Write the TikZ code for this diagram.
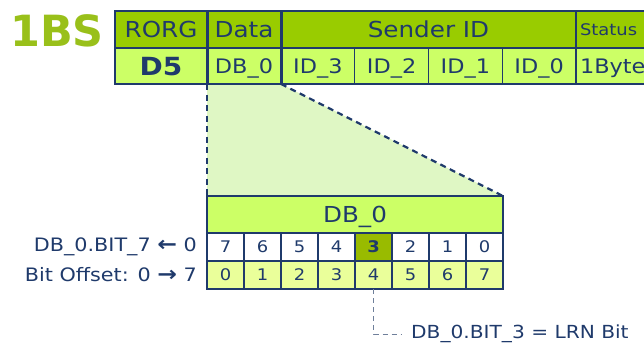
\documentclass[tikz,border=0pt]{standalone}
\usepackage{fontspec}
\setmainfont{DejaVu Sans}[FakeStretch=1.12]
\newfontfamily\logofont{DejaVu Sans}
\usetikzlibrary{positioning,backgrounds}
\definecolor{navy}{HTML}{1F3A6B}
\definecolor{dkgreen}{HTML}{99CC00}
\definecolor{ltgreen}{HTML}{CCFF66}
\definecolor{palegreen}{HTML}{EAFF9A}
\definecolor{hilite}{HTML}{99BB00}
\definecolor{trapgreen}{HTML}{DFF7C4}
\definecolor{bsgreen}{HTML}{99C01A}
\definecolor{grayblue}{HTML}{6F7F9A}

\begin{document}
\begin{tikzpicture}[x=1pt, y=-1pt,
    cell/.style={rectangle, draw=navy, line width=1.3pt, fill=ltgreen, text=navy, inner sep=0pt, outer sep=0pt, minimum height=36pt, text depth=0pt, text height=14.6pt, font=\fontsize{20}{20}\selectfont},
    head/.style={cell, fill=dkgreen, minimum height=37pt, text height=16pt, font=\fontsize{22}{22}\selectfont},
    status/.style={text width=86pt, inner xsep=4pt, align=left},
    bit/.style={cell, fill=white, minimum width=37pt, minimum height=28pt, text height=11.7pt, font=\fontsize{16}{16}\selectfont},
    hot/.style={bit, fill=hilite, font=\bfseries\fontsize{16}{16}\selectfont},
    offs/.style={bit, fill=palegreen},
    sep/.style={draw=navy, line width=3pt},
    zoomline/.style={draw=navy, line width=2.2pt, dash pattern=on 6pt off 4.5pt},
    leader/.style={draw=grayblue, line width=1pt, dash pattern=on 5pt off 4pt},
    note/.style={text=navy, inner sep=0pt, font=\fontsize{18.5}{19}\selectfont}
]
    \useasboundingbox (0,0) rectangle (644,346);
    \clip (0,0) rectangle (644,346);

    \node[text=bsgreen, inner sep=0pt, font=\logofont\bfseries\fontsize{43}{43}\selectfont] (bs) at (57,31) {1BS};

    \node[head, minimum width=92pt] (rorg) at (161,29.5) {RORG};
    \node[head, minimum width=74pt, right=0pt of rorg] (data) {Data};
    \node[head, minimum width=295pt, right=0pt of data] (sender) {Sender ID};
    \node[head, status, text height=11.7pt, font=\fontsize{16}{16}\selectfont, right=0pt of sender] (stat) {Status};

    \node[cell, minimum width=92pt, text height=18.3pt, font=\bfseries\fontsize{25}{25}\selectfont, below=0pt of rorg] (d5) {D5};
    \node[cell, minimum width=74pt, right=0pt of d5] (db0) {DB\_0};
    \foreach \n/\p in {3/db0,2/id3,1/id2,0/id1}
        \node[cell, minimum width=73.75pt, right=0pt of \p] (id\n) {ID\_\n};
    \node[cell, status, right=0pt of id0] (byte) {1Byte};

    \draw[sep] (rorg.north east) -- (d5.south east);
    \draw[sep] (data.north east) -- (db0.south east);

    \node[cell, minimum width=296pt, minimum height=37pt, text height=16pt, font=\fontsize{22}{22}\selectfont] (dbhead) at (355,214.5) {DB\_0};
    \foreach \i in {0,...,7} {
        \pgfmathtruncatemacro\b{7-\i}
        \ifnum\i=4 \def\st{hot}\else\def\st{bit}\fi
        \node[\st] (b\i) at (225.5+37*\i,247) {\b};
        \node[offs] (o\i) at (225.5+37*\i,275) {\i};
    }

    \begin{scope}[on background layer]
        \fill[trapgreen] (db0.south west) -- (db0.south east) -- (dbhead.north east) -- (dbhead.north west) -- cycle;
    \end{scope}
    \draw[zoomline] (db0.south west) -- (dbhead.north west);
    \draw[zoomline] (db0.south east) -- (dbhead.north east);

    \node[note, anchor=east] (bit7) at ([xshift=-10pt]b0.west) {DB\_0.BIT\_7 {\bfseries\fontsize{21}{19}\selectfont ←} 0};
    \node[note, anchor=east] (offset) at ([xshift=-10pt]o0.west) {Bit Offset: 0 {\bfseries\fontsize{21}{19}\selectfont →} 7};

    \node[note, anchor=west, inner xsep=9pt, font=\fontsize{18}{18}\selectfont] (lrn) at (402,334) {DB\_0.BIT\_3 = LRN Bit};
    \draw[leader] (o4.south) |- (lrn.west);
\end{tikzpicture}
\end{document}
